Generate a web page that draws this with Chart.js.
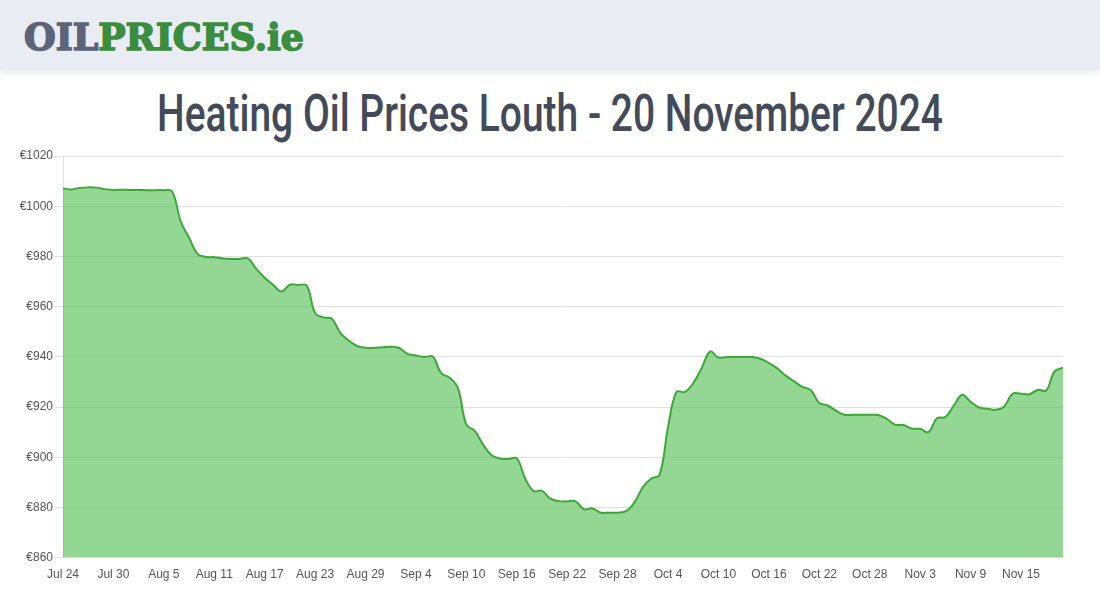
<!DOCTYPE html>
<html>
<head>
<meta charset="utf-8">
<script src="https://cdn.jsdelivr.net/npm/chart.js@4.4.1/dist/chart.umd.min.js"></script>
<style>
  html, body { margin: 0; padding: 0; background: #fff; width: 1100px; height: 600px; overflow: hidden; }
  #header { position: absolute; left: 0; top: 0; width: 1100px; height: 70px; background: #e9ecf3;
            box-shadow: 0 3px 8px rgba(0,0,0,0.08); }
  #logo { position: absolute; left: 24px; top: 12px; font-family: "DejaVu Serif", serif; font-weight: 900;
          font-size: 37px; line-height: 50px; white-space: nowrap; -webkit-text-stroke: 1.6px currentColor;
          transform-origin: 0 50%; letter-spacing: 0px; }
  #logo .oil { color: #5b6479; -webkit-text-stroke: 1.6px #5b6479; }
  #logo .pr { color: #3a8d3c; -webkit-text-stroke: 1.6px #3a8d3c; }
  #titlebox { position: absolute; left: 0; top: 84px; width: 1100px; height: 60px; }
  #title { position: absolute; left: 550px; top: 0; font-family: Roboto, "Liberation Sans", sans-serif; font-weight: 500;
           font-size: 52px; line-height: 60px; color: #434a59; white-space: nowrap; transform-origin: 0 50%; }
  #wrap { position: absolute; left: 0; top: 140px; width: 1100px; height: 460px; }
</style>
</head>
<body>
<div id="header"><div id="logo"><span class="oil">OIL</span><span class="pr">PRICES.ie</span></div></div>
<div id="titlebox"><span id="title">Heating Oil Prices Louth - 20 November 2024</span></div>
<div id="wrap"><canvas id="c" width="1100" height="460"></canvas></div>
<script>
(function fitText() {
  const t = document.getElementById('title');
  const w = t.getBoundingClientRect().width;
  const target = 786;
  const s = target / w;
  t.style.left = (550 - target / 2) + 'px';
  t.style.transform = 'scaleX(' + s + ')';
  const lg = document.getElementById('logo');
  const lw = lg.getBoundingClientRect().width;
  lg.style.transform = 'scaleX(' + (280 / lw) + ')';
})();

const dateLabels = [
  "Jul 24","Jul 25","Jul 26","Jul 27","Jul 28","Jul 29","Jul 30","Jul 31",
  "Aug 1","Aug 2","Aug 3","Aug 4","Aug 5","Aug 6","Aug 7","Aug 8","Aug 9","Aug 10","Aug 11","Aug 12","Aug 13","Aug 14","Aug 15","Aug 16","Aug 17","Aug 18","Aug 19","Aug 20","Aug 21","Aug 22","Aug 23","Aug 24","Aug 25","Aug 26","Aug 27","Aug 28","Aug 29","Aug 30","Aug 31",
  "Sep 1","Sep 2","Sep 3","Sep 4","Sep 5","Sep 6","Sep 7","Sep 8","Sep 9","Sep 10","Sep 11","Sep 12","Sep 13","Sep 14","Sep 15","Sep 16","Sep 17","Sep 18","Sep 19","Sep 20","Sep 21","Sep 22","Sep 23","Sep 24","Sep 25","Sep 26","Sep 27","Sep 28","Sep 29","Sep 30",
  "Oct 1","Oct 2","Oct 3","Oct 4","Oct 5","Oct 6","Oct 7","Oct 8","Oct 9","Oct 10","Oct 11","Oct 12","Oct 13","Oct 14","Oct 15","Oct 16","Oct 17","Oct 18","Oct 19","Oct 20","Oct 21","Oct 22","Oct 23","Oct 24","Oct 25","Oct 26","Oct 27","Oct 28","Oct 29","Oct 30","Oct 31",
  "Nov 1","Nov 2","Nov 3","Nov 4","Nov 5","Nov 6","Nov 7","Nov 8","Nov 9","Nov 10","Nov 11","Nov 12","Nov 13","Nov 14","Nov 15","Nov 16","Nov 17","Nov 18","Nov 19","Nov 20"
];

const julPrices = [1007.1, 1006.7, 1007.3, 1007.5, 1007.4, 1006.8, 1006.5, 1006.6];
const augPrices = [1006.5, 1006.5, 1006.4, 1006.4, 1006.4, 1005.8, 994.0, 987.5, 981.0, 979.8,
                   979.7, 979.2, 979.0, 979.0, 979.2, 975.0, 971.5, 968.7, 966.0, 968.7,
                   968.6, 968.4, 957.5, 955.7, 955.2, 949.5, 946.5, 944.3, 943.6, 943.5, 943.8];
const sepPrices = [944.0, 943.5, 941.2, 940.5, 939.9, 940.1, 933.5, 931.7, 927.5, 913.0,
                   910.5, 905.0, 900.8, 899.5, 899.3, 899.5, 891.5, 886.5, 886.6, 883.5,
                   882.5, 882.4, 882.4, 879.3, 879.6, 877.9, 877.9, 877.9, 878.5, 882.0];
const octPrices = [888.0, 891.5, 893.0, 912.0, 926.0, 926.0, 929.5, 935.5, 942.1, 939.7,
                   939.9, 939.9, 939.9, 939.9, 939.2, 937.5, 935.4, 932.5, 930.2, 928.0,
                   926.7, 921.6, 920.6, 918.5, 916.9, 916.9, 916.9, 916.9, 916.8, 915.3, 913.0];
const novPrices = [912.8, 911.4, 911.3, 910.0, 915.5, 916.0, 920.5, 924.9, 922.1, 919.8,
                   919.3, 918.9, 920.2, 925.3, 925.3, 925.1, 926.8, 926.6, 934.2, 935.7];
const prices = [].concat(julPrices, augPrices, sepPrices, octPrices, novPrices);

const yMin = 860, yMax = 1020, yStep = 20;

new Chart(document.getElementById('c'), {
  type: 'line',
  data: {
    labels: dateLabels,
    datasets: [{
      data: prices,
      borderColor: '#3aaa35',
      backgroundColor: 'rgba(76,187,76,0.6)',
      borderWidth: 2,
      fill: 'origin',
      tension: 0.4,
      pointRadius: 0,
      pointHoverRadius: 0
    }]
  },
  options: {
    responsive: false,
    animation: false,
    devicePixelRatio: 1,
    layout: { padding: { top: 16, right: 37, bottom: 8, left: 0 } },
    plugins: { legend: { display: false }, tooltip: { enabled: false }, title: { display: false } },
    scales: {
      x: {
        grid: { display: false, drawTicks: false },
        border: { display: true, color: '#e0e0e0' },
        ticks: {
          autoSkip: false, maxRotation: 0, minRotation: 0, padding: 10,
          color: '#555', font: { family: 'Arial, "Liberation Sans", sans-serif', size: 12 },
          callback: function(v, i) { return i % 6 === 0 ? dateLabels[i] : null; }
        }
      },
      y: {
        min: yMin, max: yMax,
        afterFit: function(s) { s.width = 63; },
        grid: { color: '#e0e0e0', tickLength: 8 },
        border: { display: true, color: '#e0e0e0' },
        ticks: {
          stepSize: yStep, padding: 2,
          color: '#555', font: { family: 'Arial, "Liberation Sans", sans-serif', size: 12 },
          callback: function(v) { return '€' + v; }
        }
      }
    }
  }
});
</script>
</body>
</html>
